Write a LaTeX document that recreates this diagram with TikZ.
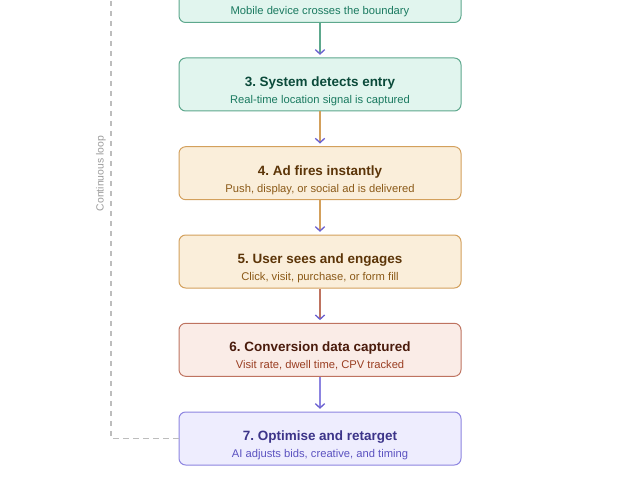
\documentclass[tikz,border=0pt]{standalone}
\usepackage{fontspec}
\setmainfont{Liberation Sans}
\usetikzlibrary{arrows.meta}
\frenchspacing
\definecolor{tealfill}{HTML}{E1F5EE}
\definecolor{tealline}{HTML}{5DA88D}
\definecolor{tealtitle}{HTML}{0B4A3A}
\definecolor{tealsub}{HTML}{1A7A60}
\definecolor{ambfill}{HTML}{FAEEDA}
\definecolor{ambline}{HTML}{D3A05C}
\definecolor{ambtitle}{HTML}{5C3508}
\definecolor{ambsub}{HTML}{8B5A18}
\definecolor{corfill}{HTML}{FAECE7}
\definecolor{corline}{HTML}{BE7360}
\definecolor{cortitle}{HTML}{4A1B0C}
\definecolor{corsub}{HTML}{9A3E22}
\definecolor{purfill}{HTML}{EEEDFE}
\definecolor{purline}{HTML}{8C84E0}
\definecolor{purtitle}{HTML}{3C3489}
\definecolor{pursub}{HTML}{5B52C0}
\definecolor{tipcol}{HTML}{6A60D0}
\definecolor{loopgray}{HTML}{BDBDBD}
\definecolor{looptext}{HTML}{9A9A9A}
\tikzset{
  box/.style={draw, line width=0.75pt, rounded corners=5pt, minimum width=211.5pt, minimum height=39.75pt, inner sep=0pt},
  tealbox/.style={box, draw=tealline, fill=tealfill},
  ambbox/.style={box, draw=ambline, fill=ambfill},
  corbox/.style={box, draw=corline, fill=corfill},
  purbox/.style={box, draw=purline, fill=purfill},
  ttl/.style={font=\fontsize{10.1}{12}\selectfont\bfseries, inner sep=0pt, anchor=base},
  sub/.style={font=\fontsize{8.4}{10}\selectfont, inner sep=0pt, anchor=base},
  flow/.style={line width=1.1pt, shorten >=2pt, -{Straight Barb[length=3.2pt,width=7pt,color=tipcol,line width=1pt]}},
  loopline/.style={draw=loopgray, line width=0.8pt, dash pattern=on 4pt off 3.5pt}
}
\begin{document}
\begin{tikzpicture}[x=0.75pt,y=-0.75pt]
\useasboundingbox (0,0) rectangle (640,478);
\clip (0,0) rectangle (640,478);
% boxes
\node[tealbox] (b2) at (320,-4) {};
\node[tealbox] (b3) at (320,84.5) {};
\node[ambbox]  (b4) at (320,173.2) {};
\node[ambbox]  (b5) at (320,261.5) {};
\node[corbox]  (b6) at (320,349.8) {};
\node[purbox]  (b7) at (320,438.5) {};
% texts
\node[sub, text=tealsub] (s2) at (320,15) {Mobile device crosses the boundary};
\node[ttl, text=tealtitle] (t3) at (320,86.5) {3. System detects entry};
\node[sub, text=tealsub] (s3) at (320,103.5) {Real-time location signal is captured};
\node[ttl, text=ambtitle] (t4) at (320,175.2) {4. Ad fires instantly};
\node[sub, text=ambsub] (s4) at (320,192.2) {Push, display, or social ad is delivered};
\node[ttl, text=ambtitle] (t5) at (320,263.5) {5. User sees and engages};
\node[sub, text=ambsub] (s5) at (320,280.5) {Click, visit, purchase, or form fill};
\node[ttl, text=cortitle] (t6) at (320,351.8) {6. Conversion data captured};
\node[sub, text=corsub] (s6) at (320,368.8) {Visit rate, dwell time, CPV tracked};
\node[ttl, text=purtitle] (t7) at (320,440.5) {7. Optimise and retarget};
\node[sub, text=pursub] (s7) at (320,457.5) {AI adjusts bids, creative, and timing};
% connectors
\draw[flow, draw=tealline] (b2.south) -- (b3.north);
\draw[flow, draw=ambline] (b3.south) -- (b4.north);
\draw[flow, draw=ambline] (b4.south) -- (b5.north);
\draw[flow, draw=corline] (b5.south) -- (b6.north);
\draw[flow, draw=purline] (b6.south) -- (b7.north);
% loop
\coordinate (looptop) at (111,-40);
\draw[loopline] (b7.west) -| (looptop);
\node[rotate=90, font=\fontsize{7.8}{9}\selectfont, text=looptext, inner sep=0pt] (looplabel) at (101,173.5) {Continuous loop};
\end{tikzpicture}
\end{document}
